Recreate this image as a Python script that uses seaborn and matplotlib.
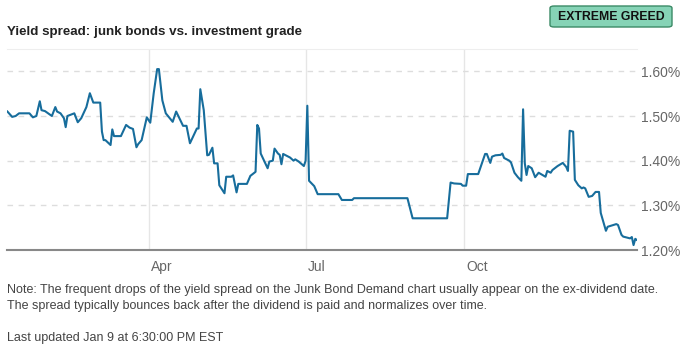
import pandas as pd
import numpy as np
import seaborn as sns
import matplotlib.pyplot as plt
import matplotlib.transforms as mtransforms
from matplotlib.patches import FancyBboxPatch

# daily yield spread readings (junk minus investment grade, %)
dates = [
    '2024-01-10', '2024-01-13', '2024-01-15', '2024-01-17', '2024-01-23', '2024-01-25',
    '2024-01-27', '2024-01-29', '2024-01-30', '2024-02-01', '2024-02-05', '2024-02-07',
    '2024-02-08', '2024-02-10', '2024-02-12', '2024-02-13', '2024-02-14', '2024-02-18',
    '2024-02-20', '2024-02-22', '2024-02-25', '2024-02-27', '2024-02-29', '2024-03-04',
    '2024-03-05', '2024-03-06', '2024-03-07', '2024-03-10', '2024-03-11', '2024-03-12',
    '2024-03-16', '2024-03-19', '2024-03-21', '2024-03-23', '2024-03-25', '2024-03-26',
    '2024-03-28', '2024-03-31', '2024-04-02', '2024-04-04', '2024-04-06', '2024-04-07',
    '2024-04-09', '2024-04-11', '2024-04-15', '2024-04-17', '2024-04-21', '2024-04-23',
    '2024-04-25', '2024-04-29', '2024-04-30', '2024-05-01', '2024-05-03', '2024-05-05',
    '2024-05-06', '2024-05-08', '2024-05-09', '2024-05-11', '2024-05-12', '2024-05-15',
    '2024-05-16', '2024-05-19', '2024-05-20', '2024-05-22', '2024-05-23', '2024-05-28',
    '2024-05-30', '2024-06-02', '2024-06-03', '2024-06-04', '2024-06-05', '2024-06-09',
    '2024-06-10', '2024-06-12', '2024-06-13', '2024-06-15', '2024-06-16', '2024-06-17',
    '2024-06-18', '2024-06-22', '2024-06-24', '2024-06-25', '2024-06-27', '2024-06-30',
    '2024-07-01', '2024-07-02', '2024-07-03', '2024-07-06', '2024-07-08', '2024-07-20',
    '2024-07-22', '2024-07-28', '2024-07-29', '2024-08-29', '2024-09-01', '2024-09-21',
    '2024-09-23', '2024-09-25', '2024-09-29', '2024-09-30', '2024-10-02', '2024-10-03',
    '2024-10-09', '2024-10-13', '2024-10-14', '2024-10-16', '2024-10-17', '2024-10-19',
    '2024-10-22', '2024-10-23', '2024-10-24', '2024-10-27', '2024-10-28', '2024-10-30',
    '2024-11-01', '2024-11-03', '2024-11-04', '2024-11-05', '2024-11-06', '2024-11-07',
    '2024-11-09', '2024-11-11', '2024-11-13', '2024-11-17', '2024-11-18', '2024-11-20',
    '2024-11-21', '2024-11-24', '2024-11-27', '2024-11-29', '2024-11-30', '2024-12-01',
    '2024-12-03', '2024-12-04', '2024-12-06', '2024-12-08', '2024-12-09', '2024-12-10',
    '2024-12-12', '2024-12-14', '2024-12-16', '2024-12-18', '2024-12-19', '2024-12-22',
    '2024-12-23', '2024-12-28', '2024-12-29', '2024-12-31', '2025-01-01', '2025-01-05',
    '2025-01-06', '2025-01-07', '2025-01-08', '2025-01-09',
]
spread = [
    1.511, 1.498, 1.500, 1.506, 1.506, 1.497,
    1.500, 1.533, 1.513, 1.511, 1.500, 1.520,
    1.510, 1.506, 1.495, 1.475, 1.500, 1.506,
    1.486, 1.495, 1.520, 1.551, 1.530, 1.530,
    1.465, 1.446, 1.446, 1.435, 1.470, 1.455,
    1.455, 1.480, 1.474, 1.471, 1.430, 1.437,
    1.446, 1.497, 1.485, 1.551, 1.605, 1.605,
    1.535, 1.506, 1.487, 1.510, 1.478, 1.478,
    1.439, 1.472, 1.472, 1.560, 1.513, 1.412,
    1.413, 1.429, 1.394, 1.394, 1.345, 1.327,
    1.364, 1.364, 1.367, 1.329, 1.348, 1.348,
    1.366, 1.375, 1.480, 1.472, 1.416, 1.383,
    1.398, 1.400, 1.427, 1.416, 1.413, 1.392,
    1.415, 1.407, 1.400, 1.403, 1.398, 1.388,
    1.400, 1.523, 1.355, 1.343, 1.325, 1.325,
    1.312, 1.312, 1.316, 1.316, 1.271, 1.271,
    1.351, 1.349, 1.348, 1.344, 1.344, 1.370,
    1.370, 1.415, 1.415, 1.395, 1.409, 1.412,
    1.413, 1.416, 1.406, 1.400, 1.396, 1.373,
    1.363, 1.355, 1.515, 1.394, 1.368, 1.388,
    1.383, 1.363, 1.373, 1.364, 1.377, 1.373,
    1.379, 1.388, 1.395, 1.386, 1.377, 1.467,
    1.465, 1.357, 1.345, 1.338, 1.340, 1.338,
    1.319, 1.321, 1.330, 1.330, 1.283, 1.243,
    1.252, 1.258, 1.256, 1.234, 1.230, 1.226,
    1.229, 1.211, 1.225, 1.222,
]
month_ticks = ['2024-04-01', '2024-07-01', '2024-10-01']
month_labels = ['Apr', 'Jul', 'Oct']
y_ticks = [1.2, 1.3, 1.4, 1.5, 1.6]

df = pd.DataFrame({'date': pd.to_datetime(dates), 'spread': spread})

sns.set_style("white")
plt.rcParams['font.family'] = ['Liberation Sans', 'DejaVu Sans']

fig = plt.figure(figsize=(6.84, 3.52), dpi=100)
ax = fig.add_axes([7 / 684, 102 / 352, 630 / 684, 201 / 352])

sns.lineplot(x='date', y='spread', data=df, ax=ax, color='#176d9c', linewidth=1.5)

ax.set_xlim(df['date'].min(), df['date'].max())
ax.set_ylim(1.2, 1.65)

# y axis on the right with percent labels
ax.yaxis.tick_right()
ax.set_yticks(y_ticks)
ax.set_yticklabels([f'{v:.2f}%' for v in y_ticks], fontsize=10, color='#666666')
ax.tick_params(axis='y', length=0, pad=3)
ax.grid(axis='y', color='#dddddd', linestyle=(0, (4, 4)), linewidth=1)

# month ticks: light vertical lines running past the baseline
ax.set_xticks(pd.to_datetime(month_ticks))
ax.set_xticklabels(month_labels, fontsize=10, color='#666666', ha='left')
ax.tick_params(axis='x', length=9, width=1, color='#e6e6e6', pad=-2)
ax.grid(axis='x', color='#e6e6e6', linestyle='-', linewidth=1)
offset = mtransforms.ScaledTranslation(2 / 100, 0, fig.dpi_scale_trans)
for lab in ax.get_xticklabels():
    lab.set_transform(lab.get_transform() + offset)

ax.set_xlabel('')
ax.set_ylabel('')
for side in ['left', 'right']:
    ax.spines[side].set_visible(False)
ax.spines['top'].set_color('#eeeeee')
ax.spines['bottom'].set_color('#888888')
ax.spines['bottom'].set_linewidth(1.5)
ax.set_axisbelow(True)

fig.text(7 / 684, 1 - 32 / 352, 'Yield spread: junk bonds vs. investment grade',
         fontsize=9.6, fontweight='bold', color='#222222', va='center')

badge = FancyBboxPatch((550 / 684, 1 - 27 / 352), 122 / 684, 21 / 352,
                       boxstyle='round,pad=0,rounding_size=0.006',
                       transform=fig.transFigure, facecolor='#86d3b6',
                       edgecolor='#3b8a66', linewidth=1)
fig.patches.append(badge)
fig.text(611 / 684, 1 - 16.5 / 352, 'EXTREME GREED', fontsize=8.8, fontweight='bold',
         color='#111111', ha='center', va='center')

note = ('Note: The frequent drops of the yield spread on the Junk Bond Demand chart usually '
        'appear on the ex-dividend date.\nThe spread typically bounces back after the dividend '
        'is paid and normalizes over time.')
fig.text(7 / 684, 1 - 284 / 352, note, fontsize=9, color='#444444', va='top', linespacing=1.5)
fig.text(7 / 684, 1 - 338 / 352, 'Last updated Jan 9 at 6:30:00 PM EST', fontsize=9,
         color='#444444', va='center')

plt.savefig('out.png', dpi=100)
